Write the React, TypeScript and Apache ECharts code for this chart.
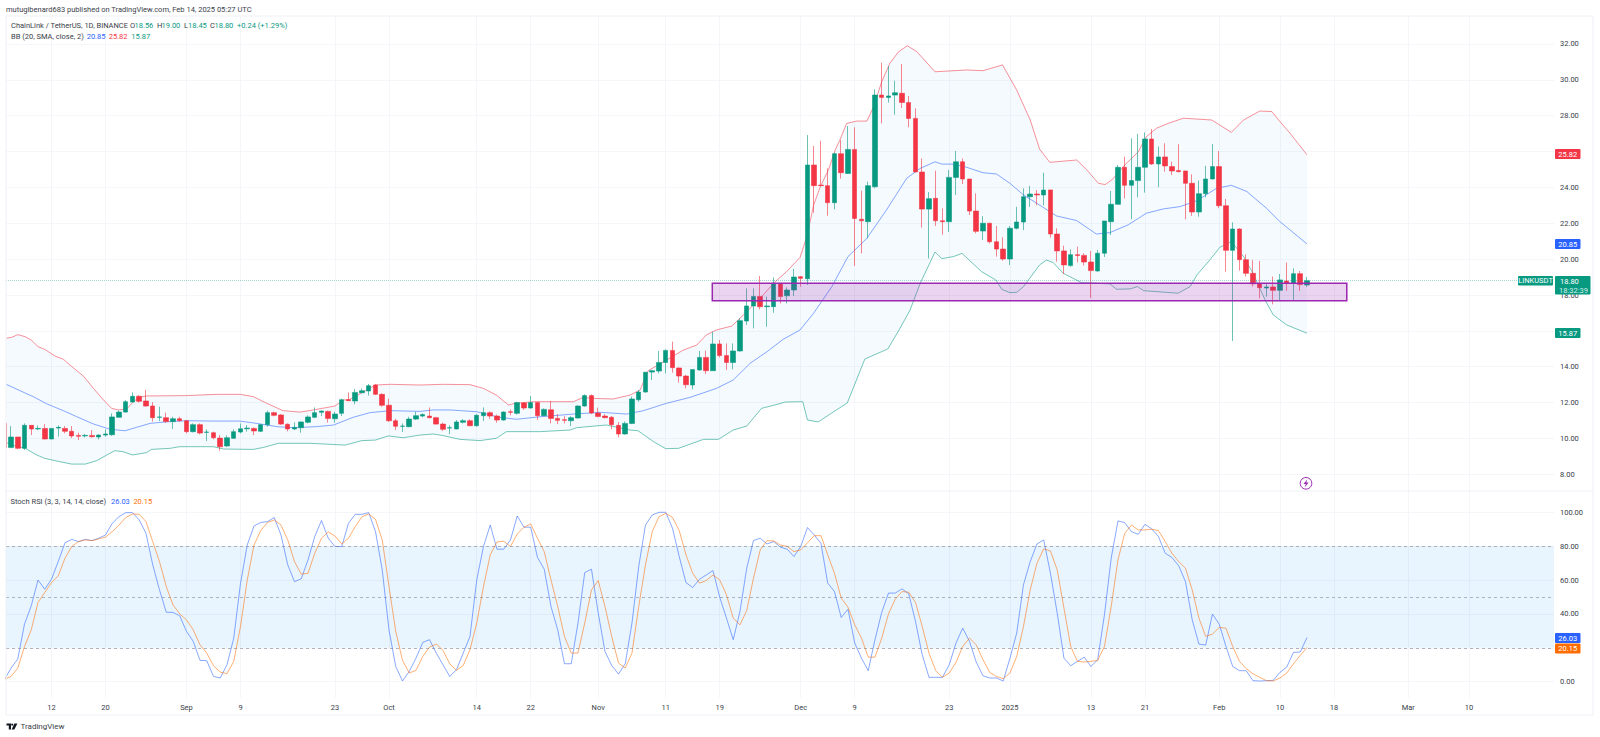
import React, { useEffect, useRef } from "react";
import * as echarts from "echarts";

// Daily candles from Aug 5 2024 to Feb 14 2025: [open, close, low, high]
const candles: number[][] = [
  [10.84,9.49,9.49,10.84],[9.49,10.08,9.49,10.69],[10.08,9.45,9.39,10.08],[9.45,10.73,9.36,10.84],[10.73,10.53,10.19,10.73],[10.53,10.56,10.47,10.73],[10.56,9.97,9.95,10.80],
  [9.97,10.56,9.95,10.56],[10.58,10.62,10.10,10.73],[10.56,10.40,10.28,10.69],[10.40,10.14,10.02,10.69],[10.17,10.12,9.91,10.32],[10.14,10.17,10.06,10.25],[10.17,10.10,10.04,10.47],
  [10.08,10.19,9.95,10.23],[10.19,10.25,10.10,10.51],[10.21,11.20,10.15,11.40],[11.18,11.47,11.16,11.55],[11.47,12.05,11.44,12.14],[12.03,12.35,12.00,12.57],[12.35,12.07,12.00,12.42],
  [12.09,11.81,11.77,12.70],[11.81,11.16,10.94,12.03],[11.18,11.20,10.97,11.77],[11.16,10.94,10.88,11.44],[10.94,11.10,10.53,11.21],[11.10,10.99,10.95,11.21],
  [10.99,10.38,10.28,11.03],[10.38,10.77,10.34,10.84],[10.77,10.30,10.23,10.84],[10.34,10.36,9.86,10.51],[10.32,10.04,9.95,10.38],[10.02,9.54,9.32,10.19],[9.58,10.04,9.54,10.17],
  [10.01,10.38,9.97,10.51],[10.36,10.54,10.28,10.84],[10.54,10.58,10.38,10.75],[10.56,10.42,10.19,10.62],[10.40,10.77,10.36,10.80],[10.77,11.44,10.66,11.55],[11.44,11.29,11.23,11.49],
  [11.31,10.80,10.75,11.36],[10.79,10.53,10.40,10.84],[10.53,10.62,10.47,10.90],[10.60,10.92,10.32,10.94],[10.90,11.20,10.84,11.29],[11.18,11.44,11.14,11.73],[11.46,11.53,11.25,11.55],
  [11.51,11.12,10.88,11.55],[11.10,11.36,10.88,11.49],[11.40,12.16,11.25,12.22],[12.16,12.11,12.09,12.57],[12.09,12.57,11.90,12.76],[12.55,12.66,12.52,12.79],[12.65,12.94,12.39,13.04],
  [12.98,12.46,12.42,13.04],[12.46,11.85,11.77,12.52],
  [11.85,10.99,10.92,12.22],[10.99,10.68,10.47,11.10],[10.68,10.69,10.36,10.84],[10.66,11.08,10.62,11.21],[11.08,11.27,11.03,11.49],[11.25,11.33,11.18,11.40],[11.25,11.16,11.12,11.73],
  [11.16,10.80,10.77,11.21],[10.80,10.51,10.42,10.88],[10.58,10.60,10.25,10.73],[10.53,10.92,10.51,11.03],[10.90,10.99,10.84,11.08],[10.99,10.71,10.68,11.07],[10.71,11.29,10.66,11.36],
  [11.27,11.44,10.97,11.73],[11.44,11.25,11.10,11.51],[11.25,11.03,10.88,11.33],[11.03,11.47,10.99,11.51],[11.49,11.46,11.29,11.62],[11.40,12.00,11.33,12.05],[11.98,11.70,11.59,12.03],
  [11.70,12.00,11.66,12.37],[12.00,11.27,11.03,12.03],[11.27,11.62,11.25,11.68],[11.60,11.12,10.84,12.09],[11.12,11.01,10.80,11.36],[11.05,11.01,10.84,11.25],[10.99,11.16,10.69,11.25],
  [11.14,11.81,11.12,11.85],[11.81,12.39,11.77,12.46],[12.39,11.42,11.36,12.46],
  [11.42,11.23,11.18,11.72],[11.25,11.16,11.12,11.36],[11.18,10.77,10.51,11.25],[10.73,10.25,10.06,10.92],[10.25,10.84,10.21,10.95],[10.84,12.20,10.80,12.33],[12.16,12.59,12.05,12.70],
  [12.59,13.69,12.55,13.72],[13.70,13.78,13.26,13.82],[13.76,14.24,13.63,14.88],[14.24,14.91,13.63,14.97],[14.91,13.95,13.67,15.40],[13.93,13.48,13.11,13.96],[13.48,13.00,12.79,13.54],
  [12.98,13.84,12.74,13.85],[13.82,14.52,13.78,14.88],[14.52,13.78,13.59,14.90],[13.78,15.27,13.78,15.95],[15.27,14.62,14.52,15.49],[14.62,14.24,13.82,15.30],[14.24,14.88,13.85,15.30],
  [14.88,16.57,14.84,16.70],[16.55,17.39,16.33,18.37],[17.39,17.92,16.14,18.37],[17.92,17.35,17.20,19.06],[17.35,17.39,16.23,17.91],[17.35,18.65,17.01,18.98],[18.65,17.91,17.53,18.65],
  [17.96,18.28,17.53,18.43],[18.28,19.00,17.94,19.45],
  [19.02,18.93,18.46,19.06],[18.91,25.25,18.56,26.92],[25.25,24.10,22.59,26.31],[24.13,24.10,24.10,26.60],[24.10,23.15,22.42,25.06],[23.15,25.88,22.78,25.94],[25.88,24.82,24.49,26.64],
  [24.78,26.12,24.75,27.42],[26.12,22.27,19.62,27.35],[22.22,22.14,20.32,23.82],[22.09,24.10,21.16,24.32],[24.04,29.15,23.95,29.47],[29.15,29.02,27.57,30.96],[29.02,29.10,28.73,30.77],
  [29.15,29.28,28.06,29.95],[29.25,28.74,28.43,30.88],[28.73,27.85,27.35,29.10],[27.85,24.86,24.86,28.41],[24.86,22.79,21.76,25.62],[22.79,23.37,20.04,23.74],[23.39,22.14,21.85,24.93],
  [22.14,22.09,21.36,22.83],[22.09,24.56,21.51,24.97],[24.56,25.43,23.58,26.03],[25.43,24.47,24.19,25.62],[24.47,22.68,22.46,24.47],[22.68,21.55,21.44,23.67],[21.57,22.00,21.07,22.40],
  [22.00,20.97,20.88,22.03],[20.97,20.56,20.14,21.85],[20.56,20.01,19.91,21.22],
  [20.01,21.72,19.67,21.85],[21.72,22.07,21.66,22.92],[22.07,23.48,21.62,23.95],[23.48,23.63,22.92,24.08],[23.63,23.58,23.00,23.85],[23.58,23.85,23.00,24.82],[23.86,21.40,21.20,23.86],
  [21.40,20.46,19.86,21.72],[20.46,19.68,19.17,20.75],[19.64,20.25,19.58,20.55],[20.25,20.20,19.82,20.70],[20.21,19.84,19.64,20.33],[19.84,19.36,17.83,20.46],[19.34,20.33,19.30,20.51],
  [20.33,22.13,20.12,22.13],[22.09,23.06,21.35,23.80],[23.06,25.12,23.04,25.25],[25.12,24.12,23.39,25.72],[24.12,24.38,22.22,26.74],[24.38,25.12,23.45,26.98],[25.12,26.70,23.71,27.07],
  [26.70,25.31,25.25,27.26],[25.31,25.70,24.01,26.28],[25.70,25.20,24.88,26.46],[25.16,24.92,24.69,25.44],[24.94,24.88,24.84,26.41],[24.92,24.23,22.22,24.92],[24.23,22.63,22.41,24.73],
  [22.63,23.65,22.37,24.38],[23.65,24.47,23.45,25.20],[24.47,25.16,24.45,26.42],
  [25.16,22.98,22.84,26.03],[22.98,20.49,19.30,23.36],[20.49,21.68,15.44,22.05],[21.68,19.97,19.36,21.72],[19.97,19.21,19.03,20.27],[19.21,18.62,18.47,19.95],[18.62,18.41,17.82,19.90],
  [18.39,18.45,17.91,18.65],[18.45,18.26,17.48,19.03],[18.26,18.84,17.72,19.17],[18.78,18.65,18.24,19.82],[18.65,19.19,17.72,19.49],[19.19,18.58,18.23,19.34],[18.56,18.80,18.45,19.00],
];

// Bollinger vertices: [day index, price]
const bbUpper: number[][] = [
  [0.3,15.59],[1.1,15.64],[2,15.79],[3.07,15.68],[4,15.49],[5,15.12],[6,14.97],[7.5,14.60],[8.75,14.42],[10,14.01],[11.7,13.49],[13.2,12.80],[14.7,12.15],[15.9,11.68],[16.9,11.59],[18.1,11.63],
  [18.9,11.96],[19.9,12.29],[21.1,12.37],[27,12.39],[31.5,12.46],[35,12.46],[36.9,12.33],[38.9,11.96],[41.3,11.55],[43.8,11.47],[45.8,11.59],[49,11.81],[50.2,12.14],[51.2,12.18],[53.7,12.70],[55,12.98],[57.2,13.02],[61.6,12.98],
  [65,13.02],[69,13.00],[71,12.79],[72.9,12.42],[74.7,11.87],[75.7,11.96],[78.4,12.05],[84.3,12.05],[85.8,12.29],[87,12.24],[90.2,12.20],[92.7,12.42],[94.2,12.70],[95.4,13.78],[98.1,14.37],[100.6,14.93],[102.6,15.21],[104,15.77],
  [105.5,16.05],[107.8,16.27],[110,17.07],[112.2,17.91],[114.2,18.74],[115.9,19.30],[117.9,20.10],[118.9,21.25],[119.9,23.00],[120.9,24.04],[122.1,24.97],[123.1,26.08],[123.8,26.64],[124.8,27.57],[126.3,27.70],[127.8,27.70],[128.8,28.50],
  [130,29.90],[131.2,30.92],[132.5,31.57],[133.8,31.90],[135.2,31.57],[137.9,30.45],[142.6,30.55],[145,30.51],[147.9,30.83],[150,29.43],[152,27.76],[153.4,26.13],[154.9,25.40],[158.9,25.53],[160.4,24.97],[162.1,24.23],[163.1,24.16],[164.1,24.42],
  [166,25.25],[168,25.98],[169.2,26.83],[170.7,27.30],[172.5,27.58],[174.7,27.86],[178.9,27.76],[181.8,27.07],[183.6,27.76],[186,28.26],[187.8,28.23],[189,27.67],[190.5,27.02],[193,25.82],
];
const bbBasis: number[][] = [
  [0.3,13.02],[2.3,12.67],[4.3,12.33],[6.3,11.93],[8.75,11.55],[10.7,11.22],[13.2,10.81],[15.7,10.51],[17.9,10.43],[19.6,10.62],[21.6,10.84],[24.1,10.93],[27,10.99],[31,10.97],[34.9,10.97],[37.4,10.84],[40.4,10.66],[42.8,10.60],[46.3,10.66],[48.8,10.75],[51.7,11.18],[54.2,11.44],[57.2,11.55],[61.6,11.51],
  [63.6,11.59],[66,11.59],[70,11.49],[73.4,11.18],[75.9,11.07],[79.4,11.21],[84.3,11.36],[88.3,11.46],[92.2,11.36],[94.7,11.55],[98.1,11.96],[101.6,12.29],[105.5,12.79],[108,13.26],[110.5,14.19],[113,14.84],[115.4,15.53],
  [117.9,16.05],[119.9,16.98],[122.6,18.46],[125,20.14],[127.8,21.16],[130.7,22.74],[133.7,24.51],[135.7,25.06],[137.9,25.43],[138.9,25.30],[140.6,25.30],[142.6,25.12],[145,24.82],[147,24.75],[149,24.23],[151,23.58],[153,23.11],[155.9,22.41],
  [158.9,22.15],[161.8,21.40],[163.8,21.48],[166.5,21.91],[169.2,22.56],[171.7,22.80],[174.2,22.93],[176.7,23.26],[179.6,23.95],[181.8,24.12],[184.1,23.77],[187,22.84],[189,22.09],[193,20.85],
];
const bbLower: number[][] = [
  [0.3,9.76],[1.6,9.58],[3.1,9.45],[4.8,9.08],[6,8.89],[8.3,8.70],[10,8.57],[12,8.57],[13.7,8.76],[15.2,9.08],[16.4,9.32],[17.6,9.26],[19,9.08],[21.1,9.21],[21.8,9.39],[24.6,9.45],[26,9.54],[31,9.54],[32.5,9.41],[36.9,9.39],[38.4,9.50],[40.6,9.73],[45.3,9.73],[50.5,9.63],[53,9.88],[55,9.91],[56.9,10.14],[59.1,10.04],
  [61.6,10.19],[63.6,10.25],[65,10.16],[67.5,9.95],[70.5,9.88],[72.9,10.01],[74.4,10.38],[79.4,10.38],[83.8,10.47],[84.8,10.60],[89.2,10.75],[92.7,10.47],[93.9,10.43],[96.2,9.82],[98,9.43],[99.9,9.45],[103.6,9.95],[105.8,9.95],[108,10.47],[110,10.69],[112.2,11.68],[114.2,11.87],[115.7,12.03],[118.3,12.05],
  [119,11.03],[120.6,10.92],[122.6,11.42],[124.9,11.98],[127.5,14.43],[130.9,14.99],[132.4,15.94],[134.2,17.16],[135.7,18.65],[137.9,20.40],[138.9,20.03],[140.6,20.14],[141.9,20.32],[144.8,19.30],[146.9,18.84],[147.8,18.31],[149,18.13],[150,18.15],[151,18.46],[153.4,19.68],[154.4,19.95],[155.4,19.81],
  [156.9,19.21],[159.6,18.69],[163.8,18.62],[164.8,18.32],[166.8,18.34],[167.9,18.47],[168.8,18.24],[173.9,18.10],[175.7,18.47],[176.7,19.12],[178.6,19.95],[180.1,20.66],[181.8,20.98],[183.6,20.14],[185,19.21],[186.8,17.72],[188,16.89],[190,16.33],[193,15.87],
];

// Stoch RSI, one value per candle
const stochK: number[] = [
  1,8,13.4,34,44.8,60,54.6,60.5,71,82,84,82.7,84,83.3,84.7,86.6,93.5,97.4,99.8,99.8,95.5,87.6,69,54.2,41,40.9,38.9,29.7,23.8,12.6,12.4,3.1,2.2,10,25.7,58,80.7,91.9,94,94.5,96.9,86.6,69,59.1,60.7,71.9,85.7,95.1,84.7,79.8,
  79.8,93.5,98.8,98.8,99.8,88.6,66,30.6,9,0.4,6.1,13.9,23.2,24.8,16.9,10,3.1,7.1,16.9,26.7,60.1,79.8,92.5,78.2,78.2,83.7,97.8,91.2,91.2,73.3,66.4,44.4,30.6,10.6,10.6,34.6,64.4,66.4,40.5,17.9,9.6,4.5,10.6,34.6,68,92.5,98.4,100,
  100,90.6,73.9,58.5,55.6,60.5,63,65.6,49.9,37.5,24.8,41.5,67,83.3,84.7,81.3,82.7,79.4,78.2,73.9,79.8,91,86.6,81.7,58.2,53.2,37.9,42.8,22.8,13.9,6.5,24.8,40.9,52.3,52.3,54.8,51.9,35.6,15.9,2.6,2.6,2.6,10,22.8,31.6,23.8,11.6,3.5,2.2,2.2,0.4,
  13.9,28.7,57.2,70.9,81.3,83.7,64,40.5,13.9,9.4,12,14.5,9,13,39.5,72.9,94.9,93.9,88.6,87,92.9,90.2,85.7,75.8,73.3,68.4,59.1,36.5,22.2,21.6,39.9,34,20.8,9,6.5,6.5,0.6,0.4,0.6,0.8,5.5,8.6,17.3,17.5,26.03,
];
const stochD: number[] = [
  1.5,3.1,8,20.8,30.6,46.8,52.7,58.5,62.5,72.9,79.8,82.7,83.7,83.3,84.3,85.3,88.6,92.5,96.9,99,98.8,94.5,82.7,70.9,56.2,45.4,40,36.5,30.6,21.8,16.9,9.4,5.7,4.7,12,32.6,60,80.7,89.2,94,95.5,92.5,83.7,70.9,63.5,64,75.8,84.7,88.4,86,
  81.3,84.7,91.6,97.4,99,95.9,83.7,56.2,29.7,12.6,5.1,6.7,14.9,20.4,22.2,18.5,10.6,6.7,9.6,18.9,34.6,56.2,74.9,82.5,82.9,79.8,87.2,91.2,93.1,84.7,76.8,60.1,44.4,26.7,16.9,16.9,34.6,54.2,59.7,44.4,26.7,11,8.1,16.9,44.4,69,88.6,97.4,
  99.4,97,89.2,74.9,64,58.2,59.7,63,60.1,51.3,37.5,33.6,42,61.1,77.8,83.3,83.1,80.7,79.8,76.8,77.8,82,86.2,86.2,74.9,64,49.3,44,33.6,25.7,14.5,14.5,25.7,40,48.7,53.2,52.8,46.8,32.6,16.9,6.5,2.6,5.1,11.4,20.8,25.7,21.8,13,5.5,3.1,1.8,
  5.1,14.9,32.6,54.2,69.9,78.4,77.2,66,43.4,20.8,12,11.6,12,12.6,20.8,44.4,71.9,87.6,92.5,89.6,89.6,90,89.2,82.7,75.8,70.9,67,54.2,37.5,26.7,28.1,32,31.6,20.8,12,7.7,4.7,2.6,0.6,0.4,2.2,5.1,10.6,15.5,20.15,
];

// Time axis: candle index of each labelled date (index 0 = Aug 5 2024)
const tickDays = [7, 15, 27, 35, 49, 57, 70, 78, 88, 98, 106, 118, 126, 140, 149, 161, 169, 180, 189, 197, 208, 217];
const tickLabels = ["12", "20", "Sep", "9", "23", "Oct", "14", "22", "Nov", "11", "19", "Dec", "9", "23", "2025", "13", "21", "Feb", "10", "18", "Mar", "10"];
const priceTicks = [8, 10, 12, 14, 16, 18, 20, 22, 24, 26, 28, 30, 32];
const stochTicks = [0, 20, 40, 60, 80, 100];
const stochGuides = [80, 50, 20];

const supportZoneDays = [104.9, 198.9];
const supportZonePrices = [17.68, 18.65];
const lastClose = 18.8;

const UP = "#089981";
const DOWN = "#F23645";
const UP_EDGE = "rgba(8,153,129,0.6)";
const DOWN_EDGE = "rgba(242,54,69,0.6)";
const BLUE = "#2962FF";
const ORANGE = "#FF6D00";
const FONT = "Roboto";
const TEXT = "#3a3e49";
const FRAME = "#eef0f5";
const GRIDLINE = "#f5f6f9";
const FS = 7.5;

const label = (text: string, x: number, y: number, fill: string, size = FS, extra: any = {}) => ({
  type: "text",
  z: 50,
  silent: true,
  style: { text, x, y, fill, font: `${size}px ${FONT}`, textVerticalAlign: "middle", ...extra },
});

const badge = (text: string, x: number, y: number, w: number, h: number, fill: string) => [
  { type: "rect", z: 49, silent: true, shape: { x, y, width: w, height: h, r: 1 }, style: { fill } },
  label(text, x + w / 2, y + h / 2, "#ffffff", FS, { textAlign: "center" }),
];

export default function App() {
  const ref = useRef<HTMLDivElement>(null);
  useEffect(() => {
    const chart = echarts.init(ref.current!, undefined, { renderer: "svg" });
    const xMin = 0.259;
    const xMax = 229.6;
    const xBase = { type: "value", min: xMin, max: xMax, axisLine: { show: false }, axisTick: { show: false } };
    const vSplit = { show: true, customValues: tickDays, lineStyle: { color: GRIDLINE, width: 1 } };
    const candleData = candles.map((c, i) => [i, c[0], c[1], c[2], c[3]]);
    const boltPts = [[1307.5, 479], [1303.5, 484], [1305.8, 484], [1304.6, 487.6], [1308.6, 482.4], [1306.2, 482.4]];

    chart.setOption({
      animation: false,
      backgroundColor: "#ffffff",
      textStyle: { fontFamily: FONT },
      grid: [
        { left: 6, top: 16, width: 1548, height: 475, containLabel: false },
        { left: 6, top: 491, width: 1548, height: 207, containLabel: false },
      ],
      xAxis: [
        { ...xBase, gridIndex: 0, axisLabel: { show: false }, axisTick: { show: false, customValues: tickDays }, splitLine: vSplit },
        {
          ...xBase,
          gridIndex: 1,
          axisTick: { show: false, customValues: tickDays },
          splitLine: vSplit,
          axisLabel: {
            show: true,
            customValues: tickDays,
            margin: 5,
            fontSize: FS,
            fontFamily: FONT,
            color: TEXT,
            hideOverlap: false,
            formatter: (v: number) => tickLabels[tickDays.indexOf(Math.round(v))] ?? "",
          },
        },
      ],
      yAxis: [
        {
          type: "value", gridIndex: 0, position: "right", min: 7.07, max: 33.56, scale: true,
          axisLine: { show: false },
          axisTick: { show: false, customValues: priceTicks },
          splitLine: { show: true, customValues: priceTicks, lineStyle: { color: GRIDLINE, width: 1 } },
          axisLabel: { show: true, customValues: priceTicks, margin: 6, fontSize: FS, fontFamily: FONT, color: TEXT, formatter: (v: number) => v.toFixed(2) },
        },
        {
          type: "value", gridIndex: 1, position: "right", min: -9.62, max: 112.57,
          axisLine: { show: false },
          axisTick: { show: false, customValues: stochTicks },
          splitLine: { show: true, customValues: stochTicks, lineStyle: { color: GRIDLINE, width: 1 } },
          axisLabel: { show: true, customValues: stochTicks, margin: 6, fontSize: FS, fontFamily: FONT, color: TEXT, formatter: (v: number) => v.toFixed(2) },
        },
      ],
      series: [
        {
          type: "custom", xAxisIndex: 0, yAxisIndex: 0, z: 1, silent: true, data: [0], clip: false,
          renderItem: (_p: any, api: any) => ({
            type: "polygon",
            shape: { points: [...bbUpper.map((v) => api.coord(v)), ...[...bbLower].reverse().map((v) => api.coord(v))] },
            style: { fill: "rgba(33,150,243,0.05)" },
          }),
        },
        { type: "line", name: "BB upper", xAxisIndex: 0, yAxisIndex: 0, z: 2, silent: true, symbol: "none", data: bbUpper, lineStyle: { color: DOWN, width: 1, opacity: 0.55 } },
        { type: "line", name: "BB basis", xAxisIndex: 0, yAxisIndex: 0, z: 2, silent: true, symbol: "none", data: bbBasis, lineStyle: { color: BLUE, width: 1, opacity: 0.55 } },
        { type: "line", name: "BB lower", xAxisIndex: 0, yAxisIndex: 0, z: 2, silent: true, symbol: "none", data: bbLower, lineStyle: { color: UP, width: 1, opacity: 0.55 } },
        {
          type: "candlestick", name: "LINKUSDT", xAxisIndex: 0, yAxisIndex: 0, z: 3, silent: true, barWidth: 5,
          encode: { x: 0, y: [1, 2, 3, 4] },
          data: candleData,
          itemStyle: { color: UP, color0: DOWN, borderColor: UP_EDGE, borderColor0: DOWN_EDGE, borderWidth: 1 },
          markLine: {
            silent: true, symbol: "none", label: { show: false },
            lineStyle: { color: UP, type: "dotted", width: 1, opacity: 0.35 },
            data: [{ yAxis: lastClose }],
          },
        },
        {
          type: "custom", name: "Support zone", xAxisIndex: 0, yAxisIndex: 0, z: 5, silent: true, data: [0], clip: false,
          renderItem: (_p: any, api: any) => {
            const a = api.coord([supportZoneDays[0], supportZonePrices[1]]);
            const b = api.coord([supportZoneDays[1], supportZonePrices[0]]);
            return {
              type: "rect",
              shape: { x: a[0], y: a[1], width: b[0] - a[0], height: b[1] - a[1] },
              style: { fill: "rgba(156,39,176,0.2)", stroke: "#9C27B0", lineWidth: 1.5 },
            };
          },
        },
        {
          type: "line", name: "%K", xAxisIndex: 1, yAxisIndex: 1, z: 3, silent: true, symbol: "none",
          data: stochK.map((v, i) => [i, v]), lineStyle: { color: BLUE, width: 1, opacity: 0.55 },
          markArea: { silent: true, itemStyle: { color: "rgba(33,150,243,0.1)" }, data: [[{ yAxis: stochGuides[0] }, { yAxis: stochGuides[2] }]] },
          markLine: {
            silent: true, symbol: "none", label: { show: false },
            lineStyle: { color: "#787B86", type: [3, 3], width: 1, opacity: 0.55 },
            data: stochGuides.map((v) => ({ yAxis: v })),
          },
        },
        {
          type: "line", name: "%D", xAxisIndex: 1, yAxisIndex: 1, z: 3, silent: true, symbol: "none",
          data: stochD.map((v, i) => [i, v]), lineStyle: { color: ORANGE, width: 1, opacity: 0.55 },
        },
      ],
      graphic: [
        { type: "rect", z: 39, silent: true, shape: { x: 0, y: 14, width: 6, height: 480 }, style: { fill: "#ffffff" } },
        { type: "rect", z: 40, silent: true, shape: { x: 6, y: 16, width: 1587, height: 699 }, style: { fill: "none", stroke: FRAME, lineWidth: 1 } },
        { type: "line", z: 40, silent: true, shape: { x1: 6, y1: 491, x2: 1593, y2: 491 }, style: { stroke: FRAME, lineWidth: 1 } },

        label("mutugibenard683 published on TradingView.com, Feb 14, 2025 05:27 UTC", 6, 9, TEXT),
        label("ChainLink / TetherUS, 1D, BINANCE", 11, 25, TEXT),
        label("O", 130, 25, TEXT), label("18.56", 134.5, 25, UP),
        label("H", 157, 25, TEXT), label("19.00", 161.5, 25, UP),
        label("L", 184, 25, TEXT), label("18.45", 188, 25, UP),
        label("C", 210, 25, TEXT), label("18.80", 214.5, 25, UP),
        label("+0.24 (+1.29%)", 237, 25, UP),
        label("BB (20, SMA, close, 2)", 11, 36, TEXT),
        label("20.85", 86.7, 36, BLUE), label("25.82", 108.7, 36, DOWN), label("15.87", 131.3, 36, UP),
        label("Stoch RSI (3, 3, 14, 14, close)", 10.5, 501, TEXT),
        label("26.03", 111, 501, BLUE), label("20.15", 133.4, 501, ORANGE),

        ...badge("25.82", 1555, 149, 25.5, 10, DOWN),
        ...badge("20.85", 1555, 239, 25.5, 10, BLUE),
        ...badge("15.87", 1555, 328, 25.5, 10, UP),
        ...badge("LINKUSDT", 1518, 276, 35, 9.5, UP),
        { type: "rect", z: 49, silent: true, shape: { x: 1555, y: 276, width: 35.5, height: 18.5, r: 1 }, style: { fill: UP } },
        label("18.80", 1560, 281, "#ffffff"),
        label("18:32:39", 1559, 290, "#d5efe9"),
        ...badge("26.03", 1555, 633, 25.5, 10, BLUE),
        ...badge("20.15", 1555, 643.5, 25.5, 10, ORANGE),

        { type: "circle", z: 45, silent: true, shape: { cx: 1306, cy: 483.3, r: 5.8 }, style: { fill: "#ffffff", stroke: "#9C27B0", lineWidth: 1 } },
        { type: "polygon", z: 46, silent: true, shape: { points: boltPts }, style: { fill: "#9C27B0" } },

        { type: "polygon", z: 45, silent: true, shape: { points: [[6.5, 723.5], [11, 723.5], [11, 729.5], [8.8, 729.5], [8.8, 725.6], [6.5, 725.6]] }, style: { fill: "#131722" } },
        { type: "circle", z: 45, silent: true, shape: { cx: 12.2, cy: 724.6, r: 1.1 }, style: { fill: "#131722" } },
        { type: "polygon", z: 45, silent: true, shape: { points: [[14.4, 723.5], [17.4, 723.5], [14.4, 729.5], [11.6, 729.5]] }, style: { fill: "#131722" } },
        label("TradingView", 20.5, 726.5, TEXT, 8),
      ],
    });
    return () => chart.dispose();
  }, []);
  return <div ref={ref} style={{ position: "fixed", left: 0, top: 0, width: 1600, height: 737, background: "#fff" }} />;
}
